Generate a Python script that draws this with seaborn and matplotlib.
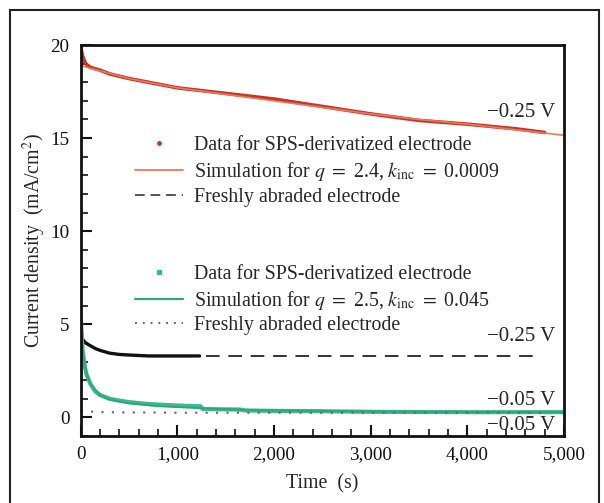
import matplotlib
matplotlib.use("Agg")
import matplotlib.pyplot as plt
from matplotlib.lines import Line2D
from matplotlib.patches import Rectangle
from matplotlib.ticker import MultipleLocator, FuncFormatter
import seaborn as sns
import pandas as pd

# red: SPS-derivatized electrode at -0.25 V
t_red = [0, 20, 50, 100, 200, 300, 500, 700, 1000, 1500, 2000, 2500, 3000, 3500, 4000, 4500, 4800]
j_red = [19.9, 19.4, 19.0, 18.8, 18.65, 18.45, 18.2, 18.0, 17.7, 17.4, 17.1, 16.7, 16.3, 15.95, 15.75, 15.5, 15.3]
t_red_sim = [0, 100, 250, 500, 1000, 1500, 2000, 2500, 3000, 3500, 4000, 4500, 5000]
j_red_sim = [18.9, 18.75, 18.55, 18.2, 17.7, 17.35, 17.0, 16.65, 16.3, 16.0, 15.75, 15.45, 15.15]

# black: freshly abraded electrode at -0.25 V
t_blk = [0, 20, 50, 100, 150, 200, 300, 400, 500, 700, 900, 1100, 1230]
j_blk = [4.7, 4.2, 4.0, 3.85, 3.7, 3.6, 3.45, 3.38, 3.35, 3.3, 3.3, 3.3, 3.3]
t_blk_dash = [1300, 4750]
j_blk_dash = [3.3, 3.3]

# green: SPS-derivatized electrode at -0.05 V
t_grn = [0, 10, 20, 40, 60, 100, 150, 200, 300, 400, 500, 700, 900, 1100, 1240,
         1260, 1500, 1650, 1700, 2000, 2500, 3000, 4000, 5000]
j_grn = [5.5, 4.5, 3.6, 2.8, 2.3, 1.8, 1.4, 1.2, 1.0, 0.9, 0.82, 0.72, 0.66, 0.62, 0.6,
         0.45, 0.43, 0.42, 0.37, 0.35, 0.33, 0.3, 0.28, 0.28]
t_grn_sim = [0, 20, 50, 100, 200, 300, 500, 800, 1200, 1600, 2000, 3000, 4000, 5000]
j_grn_sim = [5.0, 3.6, 2.6, 1.8, 1.2, 0.95, 0.75, 0.6, 0.5, 0.42, 0.38, 0.32, 0.29, 0.28]

# gray dotted: freshly abraded electrode at -0.05 V
t_dot = [0, 200, 1000, 3000, 4800]
j_dot = [0.35, 0.28, 0.25, 0.25, 0.25]

x_ticks = [0, 1000, 2000, 3000, 4000, 5000]
y_ticks = [0, 5, 10, 15, 20]

sns.set_theme(style="ticks")
plt.rcParams["font.family"] = ["Liberation Serif", "DejaVu Serif"]
plt.rcParams["mathtext.fontset"] = "stix"

red = "#c9342a"
red_sim = "#e87a5a"
green = "#3bb98c"
green_sim = "#2aa87a"
fs = 14.3

fig = plt.figure(figsize=(6.04, 5.03), dpi=100)
ax = fig.add_axes([0.1336, 0.1332, 0.9338 - 0.1336, 0.9105 - 0.1332])

sns.lineplot(data=pd.DataFrame({"t": t_red, "j": j_red}), x="t", y="j", ax=ax,
             color=red, lw=2.6, sort=False, estimator=None)
sns.lineplot(data=pd.DataFrame({"t": t_red_sim, "j": j_red_sim}), x="t", y="j", ax=ax,
             color=red_sim, lw=1.2, sort=False, estimator=None)
sns.lineplot(data=pd.DataFrame({"t": t_blk, "j": j_blk}), x="t", y="j", ax=ax,
             color="#111111", lw=2.4, sort=False, estimator=None)
sns.lineplot(data=pd.DataFrame({"t": t_blk_dash, "j": j_blk_dash}), x="t", y="j", ax=ax,
             color="#333333", lw=1.4, ls=(0, (7, 4.5)), sort=False, estimator=None)
sns.lineplot(data=pd.DataFrame({"t": t_grn, "j": j_grn}), x="t", y="j", ax=ax,
             color=green, lw=3.0, sort=False, estimator=None)
sns.lineplot(data=pd.DataFrame({"t": t_grn_sim, "j": j_grn_sim}), x="t", y="j", ax=ax,
             color=green_sim, lw=1.3, sort=False, estimator=None)
sns.lineplot(data=pd.DataFrame({"t": t_dot, "j": j_dot}), x="t", y="j", ax=ax,
             color="#666666", lw=1.5, ls=(0, (1, 4)), sort=False, estimator=None)

ax.set_xlim(0, 5000)
ax.set_ylim(-1, 20)
ax.set_xticks(x_ticks)
ax.set_yticks(y_ticks)
ax.xaxis.set_minor_locator(MultipleLocator(200))
ax.yaxis.set_minor_locator(MultipleLocator(1))
ax.xaxis.set_major_formatter(FuncFormatter(lambda v, p: f"{int(v):,}"))
ax.tick_params(which="both", direction="in", top=False, right=False, labelsize=13.8, width=1.5,
               colors="#111111")
ax.tick_params(axis="x", which="major", pad=7)
ax.tick_params(axis="y", which="major", pad=8)
ax.tick_params(which="major", length=8)
ax.tick_params(which="minor", length=5, width=1.2)
for s in ax.spines.values():
    s.set_linewidth(2)
    s.set_color("#111111")
ax.set_xlabel("Time  (s)", fontsize=fs, labelpad=8)
ax.set_ylabel("Current density  (mA/cm$^2$)", fontsize=fs, labelpad=2)

for yv, lab in [(16.4, "\u22120.25 V"), (4.34, "\u22120.25 V"), (0.88, "\u22120.05 V"), (-0.43, "\u22120.05 V")]:
    ax.text(4905, yv, lab, ha="right", va="center", fontsize=15)

h1 = [Line2D([], [], ls="none", marker="o", ms=2.5, color=red),
      Line2D([], [], color=red_sim, lw=1.3),
      Line2D([], [], color="#555555", lw=1.4, ls=(0, (5, 3)))]
l1 = ["Data for SPS-derivatized electrode",
      "Simulation for $q\\ =\\ $2.4, $k_{\\mathrm{inc}}\\ =\\ $0.0009",
      "Freshly abraded electrode"]
leg1 = ax.legend(h1, l1, loc="center left", bbox_to_anchor=(380, 13.2), bbox_transform=ax.transData,
                 frameon=False, fontsize=fs, handlelength=2.4, handletextpad=0.55, labelspacing=0.24,
                 numpoints=1)
ax.add_artist(leg1)

h2 = [Line2D([], [], ls="none", marker="s", ms=2.5, color=green),
      Line2D([], [], color=green_sim, lw=1.6),
      Line2D([], [], color="#666666", lw=1.4, ls=(0, (1, 3)))]
l2 = ["Data for SPS-derivatized electrode",
      "Simulation for $q\\ =\\ $2.5, $k_{\\mathrm{inc}}\\ =\\ $0.045",
      "Freshly abraded electrode"]
ax.legend(h2, l2, loc="center left", bbox_to_anchor=(380, 6.3), bbox_transform=ax.transData,
          frameon=False, fontsize=fs, handlelength=2.4, handletextpad=0.55, labelspacing=0.24,
          numpoints=1)

fig.add_artist(Rectangle((10 / 604, -0.05), (599 - 10) / 604, (503 - 10) / 503 + 0.05,
                         transform=fig.transFigure, fill=False, lw=1.5, ec="#222222"))

fig.savefig("out.png", dpi=100)
